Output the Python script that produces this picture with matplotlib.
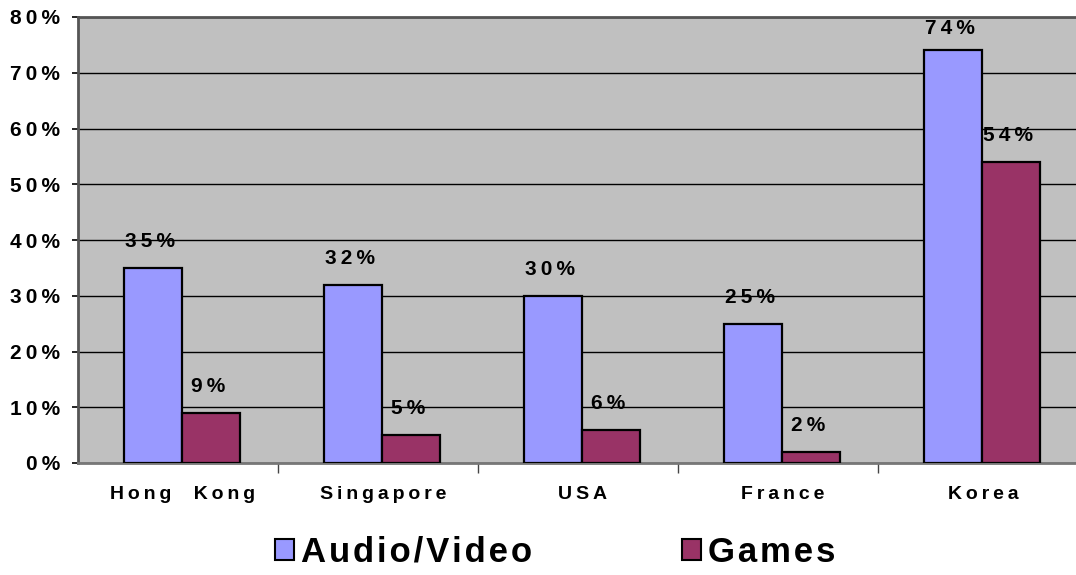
import matplotlib
matplotlib.use('Agg')
import matplotlib.pyplot as plt
from matplotlib.patches import Patch
from matplotlib.ticker import FixedLocator, NullFormatter
import numpy as np

# Share of users by activity and country
countries = ['Hong  Kong', 'Singapore', 'USA', 'France', 'Korea']
audio_video = [35, 32, 30, 25, 74]
games = [9, 5, 6, 2, 54]
series_names = ['Audio/Video', 'Games']
y_ticks = [0, 10, 20, 30, 40, 50, 60, 70, 80]

AUDIO_COLOR = '#9999FF'
GAMES_COLOR = '#993366'
PLOT_BG = '#C0C0C0'

plt.rcParams['font.family'] = ['Liberation Sans', 'DejaVu Sans']
plt.rcParams['font.weight'] = 'bold'


def spaced(s, gap='\u2009'):
     # wide letter spacing as in the old spreadsheet chart style
     return gap.join(s)


fig = plt.figure(figsize=(10.76, 5.75), dpi=100)
ax = fig.add_axes([78 / 1076, 112 / 575, 1000 / 1076, 446 / 575])
ax.set_facecolor(PLOT_BG)

x = np.arange(len(countries))
w = 0.29
audio_x = x + 0.23 + w / 2
games_x = x + 0.52 + w / 2

ax.bar(audio_x, audio_video, width=w, color=AUDIO_COLOR, edgecolor='black', lw=1.6, zorder=3)
ax.bar(games_x, games, width=w, color=GAMES_COLOR, edgecolor='black', lw=1.6, zorder=3)

ax.set_xlim(0, len(countries))
ax.set_ylim(0, 80)

# value labels above each bar, kept inside the plot area at the top
for xs, vals in ((audio_x, audio_video), (games_x, games)):
     for xi, v in zip(xs, vals):
          ax.text(xi - 0.014, min(v + 4.7, 77.9), spaced('%d%%' % v),
                  ha='center', va='center', fontsize=15, fontweight='bold', zorder=4)

ax.yaxis.set_major_locator(FixedLocator(y_ticks))
ax.set_yticklabels([spaced('%d%%' % t) for t in y_ticks], fontsize=15, fontweight='bold')
ax.tick_params(axis='y', direction='out', length=4, width=1.2, pad=9)
ax.grid(axis='y', color='black', lw=1.0, zorder=1)

# category boundaries get the ticks, names sit under the bar pairs
ax.xaxis.set_major_locator(FixedLocator(list(x[1:])))
ax.xaxis.set_major_formatter(NullFormatter())
ax.tick_params(axis='x', direction='out', length=7, width=1.0, color='#444444')
for xi, name in zip(x, countries):
     ax.text(xi + 0.525, -5.6, spaced(name), ha='center', va='center',
             fontsize=14, fontweight='bold')

for side in ('left', 'top'):
     ax.spines[side].set_color('#555555')
     ax.spines[side].set_linewidth(2.0)
ax.spines['bottom'].set_color('#777777')
ax.spines['bottom'].set_linewidth(2.0)
ax.spines['right'].set_visible(False)

handles = [Patch(facecolor=AUDIO_COLOR, edgecolor='black', lw=1.5),
           Patch(facecolor=GAMES_COLOR, edgecolor='black', lw=1.5)]
fig.legend(handles, [spaced(s, '\u200a') for s in series_names], loc='center',
           bbox_to_anchor=(0.516, 0.04), ncol=2, frameon=False,
           prop={'size': 25, 'weight': 'bold'}, handlelength=0.55, handleheight=0.55,
           handletextpad=0.2, columnspacing=4.3, borderpad=0)

fig.savefig('out.png', dpi=100)
